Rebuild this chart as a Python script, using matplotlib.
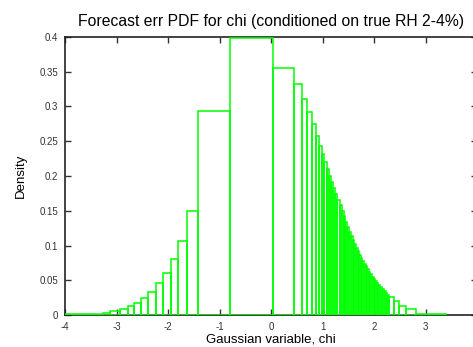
import numpy as np
import matplotlib
matplotlib.use("Agg")
import matplotlib.pyplot as plt

plt.rcParams['font.family'] = ['Liberation Sans', 'DejaVu Sans']

# bin edges (chi) and density per bin
edges = [-4.0, -3.262, -3.132, -2.938, -2.788, -2.660, -2.530, -2.388, -2.245,
         -2.097, -1.953, -1.806, -1.643, -1.418, -0.802, 0.027, 0.441, 0.590,
         0.687, 0.784, 0.862, 0.926, 0.979, 1.029, 1.076, 1.120, 1.159, 1.202,
         1.245, 1.285, 1.326, 1.365, 1.404, 1.441, 1.478, 1.513, 1.546, 1.579,
         1.612, 1.645, 1.678, 1.709, 1.740, 1.771, 1.802, 1.833, 1.864, 1.895,
         1.926, 1.957, 1.988, 2.019, 2.050, 2.082, 2.115, 2.148, 2.183, 2.219,
         2.256, 2.295, 2.392, 2.485, 2.616, 2.810, 3.392]
density = [0.002, 0.0033, 0.0055, 0.0085, 0.0125, 0.0175, 0.0245, 0.0335,
           0.0456, 0.061, 0.081, 0.107, 0.1496, 0.2935,
           0.3985, 0.356, 0.332, 0.311, 0.2917, 0.2744, 0.258, 0.2436, 0.2312,
           0.2206, 0.2101, 0.2005,
           0.192, 0.183, 0.174, 0.166, 0.158, 0.150, 0.142, 0.134, 0.127,
           0.120, 0.114, 0.108, 0.102, 0.097, 0.092, 0.087, 0.0825, 0.078,
           0.074, 0.0698, 0.066, 0.062, 0.0585, 0.055, 0.0518, 0.0486, 0.0455,
           0.0425, 0.0397, 0.0368, 0.034, 0.0315, 0.029,
           0.026, 0.0205, 0.013, 0.008, 0.0015]

xticks = [-4, -3, -2, -1, 0, 1, 2, 3]
yticks = [0, 0.05, 0.1, 0.15, 0.2, 0.25, 0.3, 0.35, 0.4]

edges = np.array(edges)
fig = plt.figure(figsize=(4.73, 3.47), dpi=100)
ax = fig.add_axes([0.138, 0.0922, 0.871, 0.8012])

ax.bar(edges[:-1], density, width=np.diff(edges), align='edge', fill=False,
       edgecolor='#00ff00', linewidth=1.1, zorder=3)

ax.set(xlim=(-4, 4), ylim=(0, 0.4))
ax.set_xticks(xticks)
ax.set_xticklabels([str(t) for t in xticks])
ax.set_yticks(yticks)
ax.set_yticklabels(['0', '0.05', '0.1', '0.15', '0.2', '0.25', '0.3', '0.35', '0.4'])
ax.tick_params(direction='in', length=4, width=1, top=True, right=True,
               labelsize=7, colors='#333333', pad=5)
for s in ax.spines.values():
    s.set_linewidth(1.2)
    s.set_color('#222222')

ax.set_title("Forecast err PDF for chi (conditioned on true RH 2-4%)", fontsize=11.3, pad=8)
ax.set_xlabel("Gaussian variable, chi", fontsize=9.5, labelpad=1)
ax.set_ylabel("Density", fontsize=9.5, labelpad=9)

fig.savefig("out.png", dpi=100)
